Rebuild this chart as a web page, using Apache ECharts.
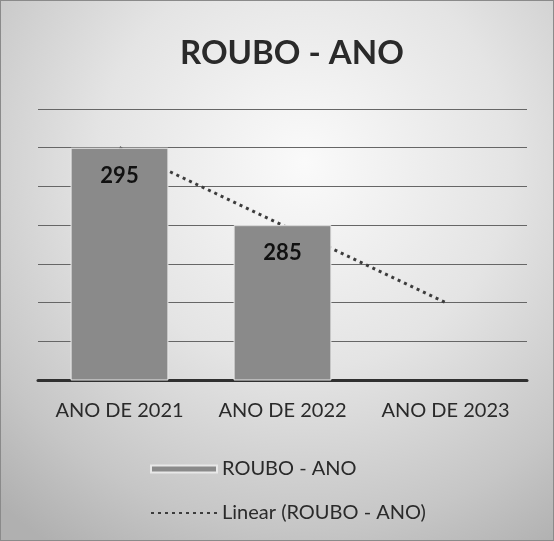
<!DOCTYPE html>
<html>
<head>
<meta charset="utf-8">
<script src="https://cdn.jsdelivr.net/npm/echarts@6/dist/echarts.min.js"></script>
<style>
  html, body { margin: 0; padding: 0; background: #fff; }
  #chart { width: 554px; height: 541px; box-sizing: border-box; border: 1px solid #8a8a8a; }
</style>
</head>
<body>
<div id="chart"></div>
<script>
const titleText = 'ROUBO - ANO';
const categories = ['ANO DE 2021', 'ANO DE 2022', 'ANO DE 2023'];
const barName = 'ROUBO - ANO';
const barValues = [295, 285, null];
const trendName = 'Linear (ROUBO - ANO)';
const trendValues = [295, 285, 275];
const axisMin = 265, axisMax = 300, axisStep = 5;

const FONT = 'Lato, "Liberation Sans", sans-serif';
const chart = echarts.init(document.getElementById('chart'), null, { renderer: 'canvas' });
chart.setOption({
  animation: false,
  backgroundColor: {
    type: 'radial', x: 0.55, y: 0.3, r: 0.85,
    colorStops: [
      { offset: 0, color: '#fafafa' },
      { offset: 0.45, color: '#e4e4e4' },
      { offset: 0.8, color: '#c6c6c6' },
      { offset: 1, color: '#b0b0b0' }
    ]
  },
  title: {
    text: titleText,
    left: 174,
    top: 31,
    textStyle: { fontFamily: FONT, fontSize: 33, fontWeight: 'bold', color: '#2a2a2a' }
  },
  legend: {
    orient: 'vertical',
    left: 144,
    top: 453,
    itemWidth: 66,
    itemHeight: 7,
    itemGap: 24,
    textStyle: { fontFamily: FONT, fontSize: 20, color: '#2a2a2a' },
    data: [
      { name: barName, icon: 'rect' },
      { name: trendName, itemStyle: { opacity: 0 }, lineStyle: { opacity: 1 } }
    ]
  },
  grid: { left: 37, right: 26, top: 108, bottom: 160, containLabel: false },
  xAxis: {
    type: 'category',
    data: categories,
    boundaryGap: true,
    axisLine: { lineStyle: { color: '#303030', width: 3 } },
    axisTick: { show: false },
    axisLabel: { interval: 0, fontFamily: FONT, fontSize: 20, color: '#2a2a2a', margin: 21 }
  },
  yAxis: {
    type: 'value',
    min: axisMin,
    max: axisMax,
    interval: axisStep,
    axisLine: { show: false },
    axisTick: { show: false },
    axisLabel: { show: false },
    splitLine: { lineStyle: { color: '#666', width: 1 } }
  },
  series: [
    {
      name: trendName,
      type: 'line',
      data: trendValues,
      z: 1,
      symbol: 'none',
      lineStyle: { color: '#3c3c3c', width: 3, type: [3, 4], cap: 'butt' },
      itemStyle: { color: '#3c3c3c' }
    },
    {
      name: barName,
      type: 'bar',
      data: barValues,
      z: 3,
      barWidth: '60%',
      itemStyle: { color: '#8a8a8a', borderColor: '#e8e8e8', borderWidth: 1 },
      label: {
        show: true,
        position: 'insideTop',
        distance: 17,
        fontFamily: FONT,
        fontSize: 22,
        fontWeight: 'bold',
        color: '#111'
      }
    }
  ]
});
</script>
</body>
</html>
